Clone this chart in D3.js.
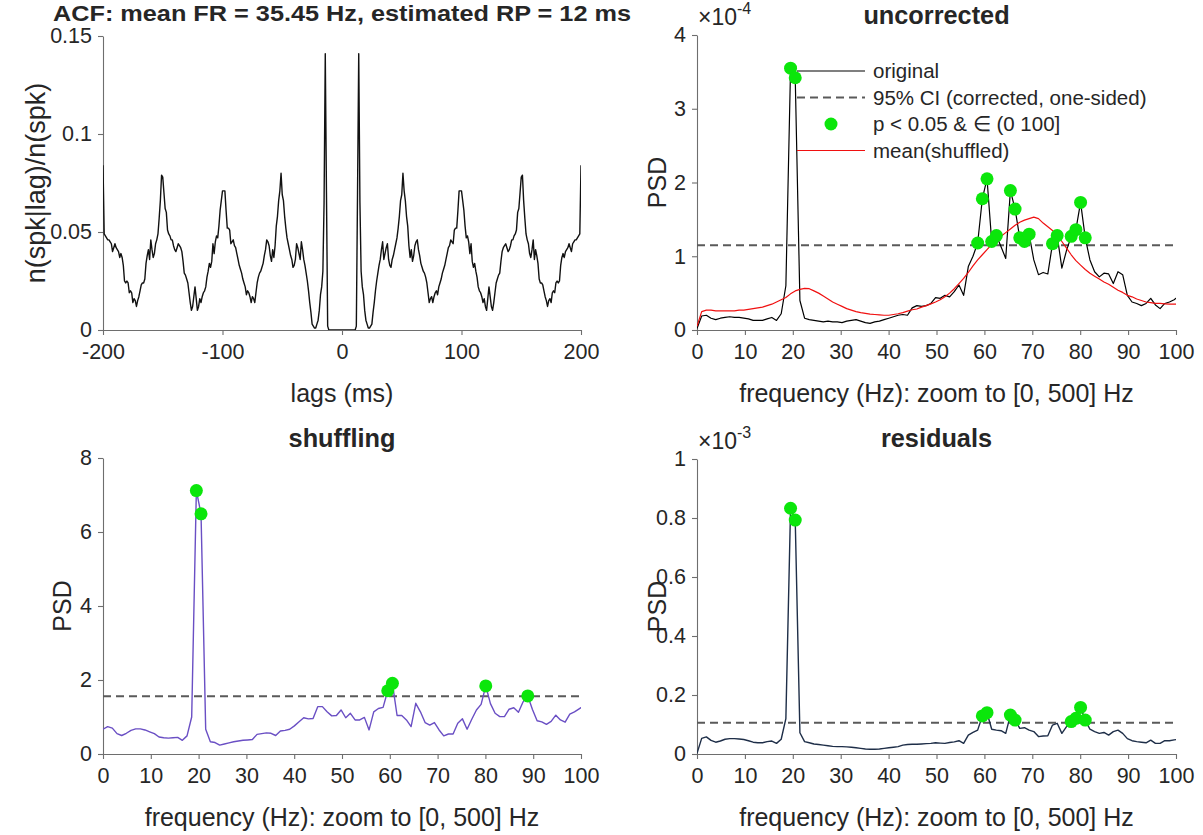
<!DOCTYPE html>
<html><head><meta charset="utf-8">
<script src="https://cdn.jsdelivr.net/npm/d3@7/dist/d3.min.js"></script>
<style>
body{margin:0;background:#fff;}
svg text{font-family:"Liberation Sans",Arial,Helvetica,sans-serif;fill:#262626;}
</style></head><body>
<svg id="chart" width="1203" height="835"></svg>
<script>
// ---------------- DATA ----------------
// ACF (lags 0..200 ms, per-mille); the ACF is symmetric in lag
const acfLagsPos = d3.range(0, 201);
const acfPosPermille = [
 0,0,0,0,0,0,0,0,0,0, 0,0,2,70,141,65,30,22,18,10,
 5,3,1,1,2,3,9,14,20,25, 29,33,36,41,45,36,39,42,44,36,
 33,32,36,38,41,44,47,52,58,66, 69,80,71,66,58,53,43,37,41,35,
 38,43,45,46,41,38,34,32,30,29, 27,24,19,14,16,17,14,17,19,20,
 18,22,24,26,29,31,33,36,39,42, 43,46,45,44,51,52,52,61,71,71,
 71,66,61,53,47,48,45,39,44,35, 32,34,30,27,22,20,19,17,14,16,
 12,10,16,22,17,12,10,14,19,24, 26,28,29,35,40,42,43,44,42,40,
 41,43,46,46,48,49,51,60,62,70, 78,79,66,57,49,46,44,39,37,41,
 46,36,41,38,34,26,24,24,23,20, 17,15,12,15,16,14,19,20,19,24,
 25,24,25,33,37,39,37,40,41,42, 44,42,40,44,45,46,46,47,48,49,
 84];
const acfXTicks = [-200, -100, 0, 100, 200];
const acfXTickLabels = ["-200", "-100", "0", "100", "200"];
const acfYTicks = [0, 50, 100, 150];
const acfYTickLabels = ["0", "0.05", "0.1", "0.15"];

// PSD frequency bins (bin k -> k * 1000/1024 Hz)
const binWidthHz = 1000 / 1024;
const psdBins = d3.range(0, 104);
const freqTicks = [0,10,20,30,40,50,60,70,80,90,100];

// uncorrected (x1e-4)
const uncorrOriginal = [
 0.02,0.19,0.20,0.16,0.14,0.16,0.17,0.18,0.17,0.17,
 0.16,0.15,0.13,0.13,0.13,0.15,0.17,0.13,0.22,0.60,
 3.55,3.42,0.40,0.16,0.14,0.13,0.12,0.11,0.12,0.11,
 0.11,0.10,0.12,0.13,0.14,0.12,0.10,0.09,0.11,0.12,
 0.14,0.16,0.18,0.20,0.21,0.20,0.30,0.33,0.32,0.33,
 0.36,0.44,0.43,0.47,0.45,0.52,0.61,0.47,0.86,1.00,
 1.18,1.78,2.05,1.20,1.28,1.13,0.97,1.89,1.64,1.25,
 1.20,1.30,0.95,0.75,0.78,0.76,1.17,1.28,0.84,1.08,
 1.27,1.36,1.73,1.25,0.95,0.79,0.72,0.77,0.76,0.63,
 0.79,0.75,0.47,0.38,0.36,0.33,0.36,0.43,0.34,0.29,
 0.36,0.38,0.41,0.46];
const uncorrShuffledMean = [
 0.05,0.25,0.27,0.27,0.26,0.26,0.26,0.26,0.26,0.27,
 0.27,0.28,0.29,0.30,0.31,0.33,0.35,0.38,0.41,0.44,
 0.49,0.53,0.55,0.565,0.56,0.53,0.50,0.46,0.42,0.38,
 0.35,0.32,0.29,0.27,0.25,0.235,0.225,0.215,0.21,0.205,
 0.20,0.20,0.21,0.22,0.235,0.255,0.275,0.285,0.31,0.33,
 0.355,0.38,0.41,0.45,0.50,0.56,0.63,0.70,0.78,0.87,
 0.95,1.02,1.09,1.16,1.21,1.27,1.32,1.37,1.42,1.46,
 1.49,1.51,1.53,1.51,1.45,1.40,1.35,1.29,1.20,1.11,
 1.02,0.94,0.88,0.82,0.77,0.73,0.69,0.65,0.62,0.58,
 0.54,0.51,0.47,0.45,0.42,0.40,0.38,0.37,0.36,0.36,
 0.355,0.35,0.35,0.35];
const uncorrThreshold = 1.15;
const uncorrSigBins = [20,21,60,61,62,63,64,67,68,69,70,71,76,77,80,81,82,83];
const uncorrYTicks = [0,1,2,3,4];

// shuffling
const shuffPsd = [
 0.67,0.74,0.70,0.55,0.50,0.56,0.64,0.68,0.68,0.65,
 0.60,0.55,0.46,0.44,0.43,0.44,0.45,0.37,0.49,1.00,
 7.12,6.49,0.67,0.33,0.31,0.24,0.27,0.30,0.33,0.35,
 0.37,0.38,0.39,0.53,0.55,0.57,0.56,0.50,0.62,0.64,
 0.67,0.76,0.87,0.98,0.95,0.96,1.28,1.28,1.14,1.03,
 1.04,1.19,0.98,1.10,0.92,0.92,0.99,0.65,1.14,1.23,
 1.26,1.71,1.91,1.04,1.04,0.92,0.74,1.37,1.14,0.85,
 0.78,0.85,0.65,0.49,0.54,0.54,0.83,0.95,0.67,0.94,
 1.19,1.34,1.84,1.36,1.10,1.01,1.01,1.21,1.25,1.13,
 1.41,1.57,1.20,0.90,0.87,0.80,0.88,1.05,0.92,0.86,
 1.08,1.14,1.22,1.30];
const shuffThreshold = 1.56;
const shuffSigBins = [20,21,61,62,82,91];
const shuffYTicks = [0,2,4,6,8];

// residuals (x1e-3)
const residPsd = [
 0.002,0.053,0.058,0.046,0.040,0.044,0.050,0.052,0.052,0.051,
 0.049,0.045,0.040,0.038,0.038,0.042,0.044,0.036,0.050,0.120,
 0.833,0.793,0.072,0.042,0.038,0.034,0.032,0.030,0.028,0.026,
 0.025,0.025,0.024,0.023,0.021,0.019,0.017,0.016,0.016,0.017,
 0.019,0.021,0.023,0.025,0.030,0.032,0.033,0.033,0.034,0.035,
 0.036,0.038,0.037,0.036,0.039,0.041,0.045,0.036,0.064,0.073,
 0.081,0.129,0.140,0.084,0.081,0.079,0.070,0.132,0.115,0.087,
 0.089,0.081,0.076,0.059,0.061,0.062,0.098,0.104,0.070,0.093,
 0.110,0.121,0.158,0.115,0.084,0.076,0.070,0.073,0.064,0.076,
 0.081,0.070,0.052,0.045,0.042,0.040,0.038,0.047,0.036,0.036,
 0.045,0.045,0.048,0.050];
const residThreshold = 0.106;
const residSigBins = [20,21,61,62,67,68,80,81,82,83];
const residYTicks = [0,0.2,0.4,0.6,0.8,1];
const residYTickLabels = ["0","0.2","0.4","0.6","0.8","1"];

const legendLabels = ["original", "95% CI (corrected, one-sided)", "p < 0.05 & \u2208 (0 100]", "mean(shuffled)"];

// ---------------- STYLE ----------------
const AX = "#6e6e6e", TXT = "#262626";
const GREEN = "#0be60b";
const FS_TICK = 21.5, FS_LABEL = 25, FS_TITLE = 25.3, FS_LEG = 20.5;

const svg = d3.select("#chart");

function panel(box, xDomain, yDomain, xTicks, xFmt, yTicks, yFmt, id) {
  const x = d3.scaleLinear().domain(xDomain).range([box.l, box.r]);
  const y = d3.scaleLinear().domain(yDomain).range([box.b, box.t]);
  const g = svg.append("g");
  svg.append("clipPath").attr("id", id).append("rect")
    .attr("x", box.l).attr("y", box.t - 10).attr("width", box.r - box.l).attr("height", box.b - box.t + 10);
  const xa = g.append("g").attr("transform", `translate(0,${box.b})`)
    .call(d3.axisBottom(x).tickValues(xTicks).tickFormat(xFmt).tickSize(5).tickSizeOuter(0).tickPadding(9));
  const ya = g.append("g").attr("transform", `translate(${box.l},0)`)
    .call(d3.axisLeft(y).tickValues(yTicks).tickFormat(yFmt).tickSize(5).tickSizeOuter(0).tickPadding(6));
  [xa, ya].forEach(a => {
    a.attr("font-size", null).attr("font-family", null);
    a.select(".domain").attr("stroke", AX).attr("stroke-width", 1.1);
    a.selectAll(".tick line").attr("stroke", AX).attr("stroke-width", 1.1);
    a.selectAll(".tick text").attr("fill", TXT).style("font-size", FS_TICK + "px");
  });
  const plot = g.append("g").attr("clip-path", `url(#${id})`);
  return {x, y, g, plot};
}

function addLabels(box, title, titleY, titleSize, titleLen, xlabel, ylabel, ylabelX, ylabelSize) {
  const cx = (box.l + box.r) / 2, cy = (box.t + box.b) / 2;
  const t = svg.append("text").attr("x", cx).attr("y", titleY).attr("text-anchor", "middle")
    .style("font-size", titleSize + "px").style("font-weight", "bold").text(title);
  if (titleLen) t.attr("textLength", titleLen).attr("lengthAdjust", "spacingAndGlyphs");
  svg.append("text").attr("x", cx).attr("y", box.b + 72).attr("text-anchor", "middle")
    .style("font-size", FS_LABEL + "px").text(xlabel);
  svg.append("text").attr("transform", `translate(${ylabelX},${cy}) rotate(-90)`).attr("text-anchor", "middle")
    .style("font-size", ylabelSize + "px").text(ylabel);
}

function exponentLabel(box, exp) {
  const t = svg.append("text").attr("x", box.l + 1).attr("y", box.t - 10).style("font-size", "23px");
  t.append("tspan").text("\u00d710");
  t.append("tspan").attr("dy", -11).style("font-size", "16px").text(exp);
}

function psdLine(p, values, color, width) {
  const line = d3.line().x(k => p.x(k * binWidthHz)).y(k => p.y(values[k]));
  p.plot.append("path").datum(psdBins).attr("d", line).attr("fill", "none")
    .attr("stroke", color).attr("stroke-width", width).attr("stroke-linejoin", "round");
}
function thresholdLine(p, thr) {
  p.plot.append("line").attr("x1", p.x(0)).attr("x2", p.x(100)).attr("y1", p.y(thr)).attr("y2", p.y(thr))
    .attr("stroke", "#5a5a5a").attr("stroke-width", 2).attr("stroke-dasharray", "8,5");
}
function sigMarkers(p, values, bins) {
  p.g.append("g").selectAll("circle").data(bins).join("circle")
    .attr("cx", k => p.x(k * binWidthHz)).attr("cy", k => p.y(values[k])).attr("r", 6.5).attr("fill", GREEN);
}
const intFmt = d3.format("d");

// ---------------- PANEL 1: ACF ----------------
const b1 = {l: 103, r: 581, t: 36, b: 330};
const p1 = panel(b1, [-200, 200], [0, 150], acfXTicks, (d, i) => acfXTickLabels[i],
  acfYTicks, (d, i) => acfYTickLabels[i], "c1");
const acfFull = acfLagsPos.slice(1).reverse().map(l => [-l, acfPosPermille[l]])
  .concat(acfLagsPos.map(l => [l, acfPosPermille[l]]));
p1.plot.append("path").datum(acfFull)
  .attr("d", d3.line().x(d => p1.x(d[0])).y(d => p1.y(d[1])))
  .attr("fill", "none").attr("stroke", "#111").attr("stroke-width", 1.4).attr("stroke-linejoin", "round");
addLabels(b1, "ACF: mean FR = 35.45 Hz, estimated RP = 12 ms", 20.5, 22.6, 578, "lags (ms)", "n(spk|lag)/n(spk)", 45, 27);

// ---------------- PANEL 2: uncorrected ----------------
const b2 = {l: 697, r: 1176, t: 35, b: 330};
const p2 = panel(b2, [0, 100], [0, 4], freqTicks, intFmt, uncorrYTicks, intFmt, "c2");
thresholdLine(p2, uncorrThreshold);
psdLine(p2, uncorrOriginal, "#000", 1.2);
psdLine(p2, uncorrShuffledMean, "#f01010", 1.2);
sigMarkers(p2, uncorrOriginal, uncorrSigBins);
addLabels(b2, "uncorrected", 24, FS_TITLE, null, "frequency (Hz): zoom to [0, 500] Hz", "PSD", 666, FS_LABEL);
exponentLabel(b2, "-4");

// legend
const lg = svg.append("g");
const lx1 = 797, lx2 = 865, ltx = 873, rows = [71, 97.5, 124, 150.5];
lg.append("line").attr("x1", lx1).attr("x2", lx2).attr("y1", rows[0]).attr("y2", rows[0]).attr("stroke", "#000").attr("stroke-width", 1.2);
lg.append("line").attr("x1", lx1).attr("x2", lx2).attr("y1", rows[1]).attr("y2", rows[1]).attr("stroke", "#5a5a5a").attr("stroke-width", 2).attr("stroke-dasharray", "8,5");
lg.append("circle").attr("cx", (lx1 + lx2) / 2).attr("cy", rows[2]).attr("r", 6.5).attr("fill", GREEN);
lg.append("line").attr("x1", lx1).attr("x2", lx2).attr("y1", rows[3]).attr("y2", rows[3]).attr("stroke", "#f01010").attr("stroke-width", 1.2);
legendLabels.forEach((s, i) => {
  lg.append("text").attr("x", ltx).attr("y", rows[i] + 7).style("font-size", FS_LEG + "px").text(s);
});

// ---------------- PANEL 3: shuffling ----------------
const b3 = {l: 103, r: 581, t: 458, b: 754};
const p3 = panel(b3, [0, 100], [0, 8], freqTicks, intFmt, shuffYTicks, intFmt, "c3");
thresholdLine(p3, shuffThreshold);
psdLine(p3, shuffPsd, "#6a4fc4", 1.4);
sigMarkers(p3, shuffPsd, shuffSigBins);
addLabels(b3, "shuffling", 447, FS_TITLE, null, "frequency (Hz): zoom to [0, 500] Hz", "PSD", 71, FS_LABEL);

// ---------------- PANEL 4: residuals ----------------
const b4 = {l: 697, r: 1176, t: 459, b: 754};
const p4 = panel(b4, [0, 100], [0, 1], freqTicks, intFmt, residYTicks, (d, i) => residYTickLabels[i], "c4");
thresholdLine(p4, residThreshold);
psdLine(p4, residPsd, "#1e2e48", 1.4);
sigMarkers(p4, residPsd, residSigBins);
addLabels(b4, "residuals", 447, FS_TITLE, null, "frequency (Hz): zoom to [0, 500] Hz", "PSD", 666, FS_LABEL);
exponentLabel(b4, "-3");
</script>
</body></html>
